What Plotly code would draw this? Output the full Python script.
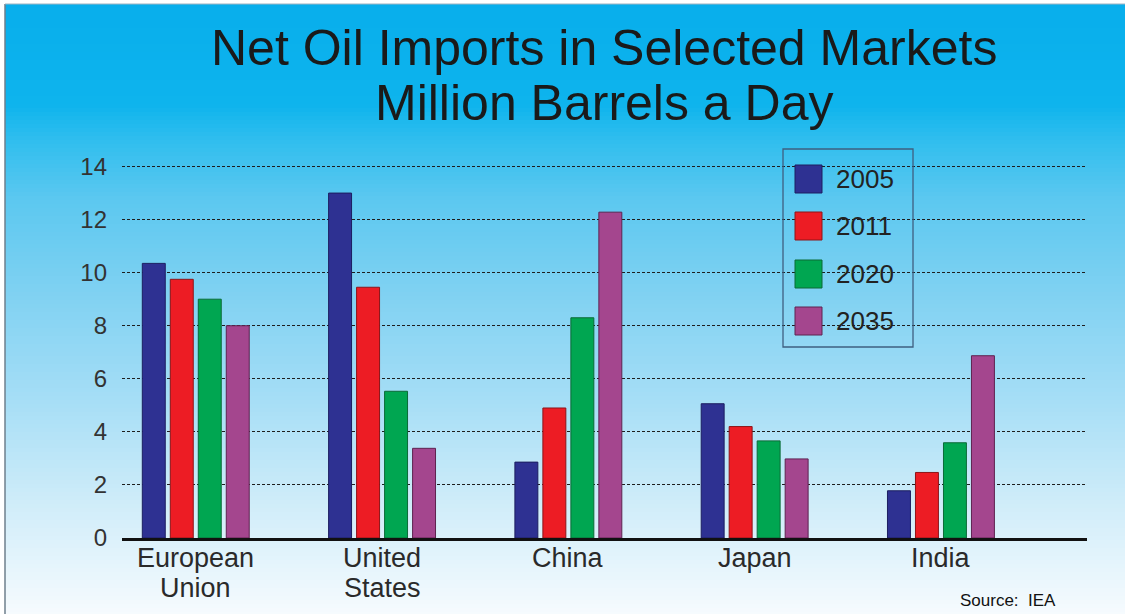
import plotly.graph_objects as go

# Net oil imports, million barrels a day (source: IEA)
markets = ["European Union", "United States", "China", "Japan", "India"]
label_line1 = ["European", "United", "China", "Japan", "India"]
label_line2 = ["Union", "States", "", "", ""]
years = ["2005", "2011", "2020", "2035"]
imports_2005 = [10.35, 13.0, 2.86, 5.06, 1.78]
imports_2011 = [9.75, 9.45, 4.9, 4.2, 2.47]
imports_2020 = [9.0, 5.53, 8.3, 3.66, 3.59]
imports_2035 = [8.0, 3.38, 12.28, 2.98, 6.87]
series = [imports_2005, imports_2011, imports_2020, imports_2035]

fills = ["#2E3192", "#ED1C24", "#00A651", "#A4468E"]
edges = ["#1C1E60", "#8E1418", "#0B6A37", "#5E2350"]
y_ticks = [0, 2, 4, 6, 8, 10, 12, 14]

W, H = 1125, 614
L, R, T, B = 122, 1087, 140, 538  # plot area in pixels
FONT = "Liberation Sans, Arial, sans-serif"


def px(x):
    return (x - L) / (R - L)


def py(y):
    return (B - y) / (B - T)


fig = go.Figure()
for name, vals, fc, ec in zip(years, series, fills, edges):
    fig.add_trace(go.Bar(
        x=markets, y=vals, name=name,
        marker=dict(color=fc, line=dict(color=ec, width=1)),
        showlegend=False,
    ))

shapes = []
# vertical sky gradient behind the whole chart
stops = [
    (0, (8, 174, 236)),
    (105, (14, 180, 237)),
    (140, (48, 190, 238)),
    (200, (92, 200, 240)),
    (300, (130, 210, 242)),
    (400, (166, 222, 246)),
    (500, (206, 236, 249)),
    (614, (246, 251, 254)),
]


def grad(yv):
    for (y0, c0), (y1, c1) in zip(stops[:-1], stops[1:]):
        if y0 <= yv <= y1:
            t = (yv - y0) / (y1 - y0)
            return tuple(round(a + (b - a) * t) for a, b in zip(c0, c1))
    return stops[-1][1]


top_edge = 4
step = 4
yy = top_edge
while yy < H:
    y2 = min(yy + step, H)
    r, g, b = grad((yy + y2) / 2)
    shapes.append(dict(
        type="rect", xref="paper", yref="paper", layer="below",
        x0=px(5), x1=px(W), y0=py(y2 + 0.5), y1=py(yy),
        fillcolor=f"rgb({r},{g},{b})", line=dict(width=0),
    ))
    yy = y2

# thin frame on the left and top edges
shapes.append(dict(type="line", xref="paper", yref="paper", layer="below",
                   x0=px(5), x1=px(5), y0=py(H), y1=py(top_edge),
                   line=dict(color="#6E7F8C", width=1.5)))
shapes.append(dict(type="line", xref="paper", yref="paper", layer="below",
                   x0=px(5), x1=px(W), y0=py(top_edge), y1=py(top_edge),
                   line=dict(color="#9DB3C2", width=1)))

# legend box
shapes.append(dict(type="rect", xref="paper", yref="paper",
                   x0=px(783), x1=px(913), y0=py(347), y1=py(149),
                   line=dict(color="#3F5F80", width=1.3),
                   fillcolor="rgba(0,0,0,0)"))

annotations = []
leg_centers = [179, 226, 274, 321]
for name, fc, ec, cy in zip(years, fills, edges, leg_centers):
    shapes.append(dict(type="rect", xref="paper", yref="paper",
                       x0=px(795), x1=px(822), y0=py(cy + 14), y1=py(cy - 14),
                       fillcolor=fc, line=dict(color=ec, width=1)))
    annotations.append(dict(
        text=name, xref="paper", yref="paper", x=px(834), y=py(cy),
        xanchor="left", yanchor="middle", showarrow=False,
        font=dict(family=FONT, size=26, color="#222"),
    ))

# category labels under the axis, tightly set on two lines
cat_font = dict(family=FONT, size=27, color="#2A2A2A")
for m, l1, l2 in zip(markets, label_line1, label_line2):
    annotations.append(dict(text=l1, xref="x", yref="paper", x=m, y=py(558),
                            xanchor="center", yanchor="middle", showarrow=False,
                            font=cat_font))
    if l2:
        annotations.append(dict(text=l2, xref="x", yref="paper", x=m, y=py(588),
                                xanchor="center", yanchor="middle", showarrow=False,
                                font=cat_font))

# two-line title
title_font = dict(family=FONT, size=50, color="#1A1A1A")
annotations.append(dict(text="Net Oil Imports in Selected Markets",
                        xref="paper", yref="paper", x=px(604), y=py(48),
                        xanchor="center", yanchor="middle", showarrow=False,
                        font=title_font))
annotations.append(dict(text="Million Barrels a Day",
                        xref="paper", yref="paper", x=px(604), y=py(103),
                        xanchor="center", yanchor="middle", showarrow=False,
                        font=title_font))

annotations.append(dict(text="Source:  IEA", xref="paper", yref="paper",
                        x=px(1058), y=py(600), xanchor="right", yanchor="middle",
                        showarrow=False,
                        font=dict(family=FONT, size=17, color="#111")))

fig.update_layout(
    width=W, height=H,
    margin=dict(l=L, r=W - R, t=T, b=H - B, pad=0, autoexpand=False),
    paper_bgcolor="white",
    plot_bgcolor="rgba(0,0,0,0)",
    barmode="group",
    bargap=0.399,
    bargroupgap=0.18,
    shapes=shapes,
    annotations=annotations,
    font=dict(family=FONT, color="#2A2A2A"),
)
fig.update_xaxes(
    range=[-0.396, 4.784],
    automargin=False,
    showgrid=False,
    showline=True, linecolor="#111", linewidth=3,
    ticks="", showticklabels=False,
)
fig.update_yaxes(
    range=[0, 15],
    automargin=False,
    tickvals=y_ticks,
    showgrid=True, gridcolor="#1E1E1E", gridwidth=1, griddash="3px,2px",
    zeroline=False, showline=False,
    ticks="", tickfont=dict(size=24, color="#333"),
    ticklabelstandoff=14,
)

fig.write_html("out.html")
